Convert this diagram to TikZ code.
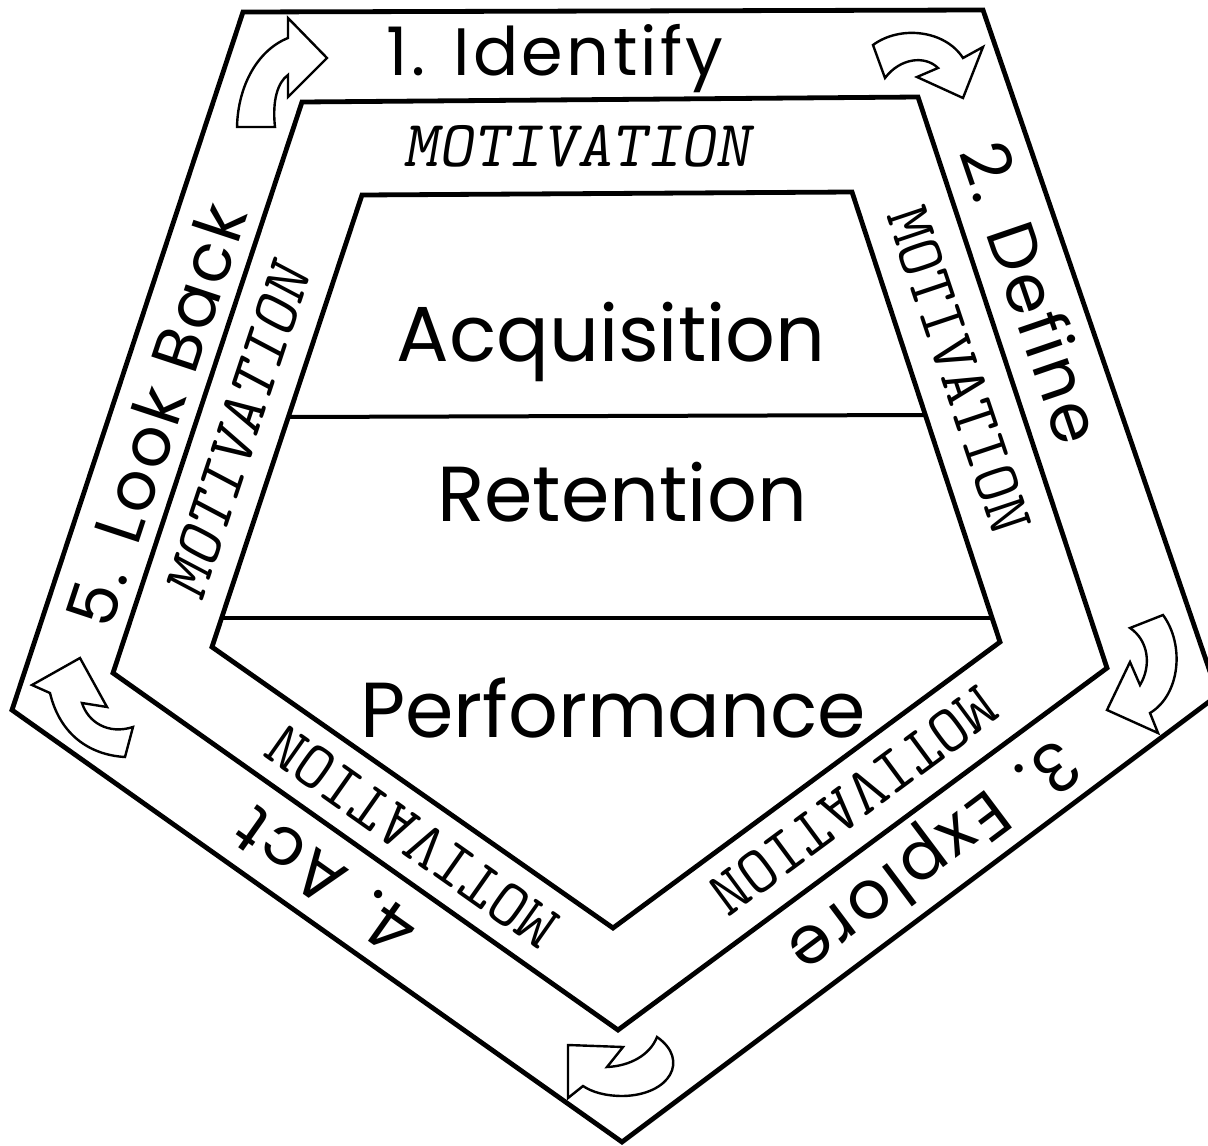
\documentclass[tikz,border=0pt]{standalone}
\usepackage{fontspec}
\setmainfont{Poppins}
\begin{document}
\begin{tikzpicture}[x=1pt,y=-1pt,
  frame/.style={line width=4.8pt, line join=miter},
  divider/.style={line width=4pt},
  turn/.style={line width=2.4pt, fill=white, line join=miter},
  steplabel/.style={font=\fontsize{67}{67}\selectfont\addfontfeature{LetterSpace=5}, inner sep=0pt, text height=47pt, text depth=0pt},
  motiv/.style={font=\ttfamily\fontsize{66}{66}\selectfont, inner sep=0pt, text height=40pt, text depth=0pt},
  motivsl/.style={motiv, font=\ttfamily\slshape\fontsize{66}{66}\selectfont},
  core/.style={font=\fontsize{78}{78}\selectfont, inner sep=0pt, text height=55pt, text depth=0pt}]
\path[use as bounding box, fill=white] (0,0) rectangle (1208,1146);
\clip (0,0) rectangle (1208,1146);
% outer pentagon
\coordinate (o1) at (243,12);
\coordinate (o2) at (983,10);
\coordinate (o3) at (1218,695);
\coordinate (o4) at (622,1142);
\coordinate (o5) at (12,710);
% middle pentagon
\coordinate (m1) at (302,102);
\coordinate (m2) at (918,97);
\coordinate (m3) at (1107,668);
\coordinate (m4) at (618,1030);
\coordinate (m5) at (113,673);
% inner shape
\coordinate (i1) at (362,195);
\coordinate (i2) at (852,192);
\coordinate (i3) at (1000,642);
\coordinate (i4) at (613,928);
\coordinate (i5) at (212,647);
\draw[frame] (o1) -- (o2) -- (o3) -- (o4) -- (o5) -- cycle;
\draw[frame] (m1) -- (m2) -- (m3) -- (m4) -- (m5) -- cycle;
\draw[frame] (i1) -- (i2) -- (i3) -- (i4) -- (i5) -- cycle;
\coordinate (d1l) at (288,417);
\coordinate (d1r) at (925,415);
\coordinate (d2l) at (222,618);
\coordinate (d2r) at (992,618);
\draw[divider] (d1l) -- (d1r);
\draw[divider] (d2l) -- (d2r);
% turning arrows
\draw[turn] (237,127) .. controls (238,85) and (258,50) .. (288,38) -- (288,18) -- (327,58) -- (288,97) -- (288,75) .. controls (278,82) and (272,100) .. (275,127) -- cycle;
\draw[turn] (873,45) .. controls (900,25) and (945,30) .. (963,58) -- (983,47) -- (963,98) -- (917,77) -- (938,68) .. controls (925,55) and (900,58) .. (885,78) -- cycle;
\draw[turn] (1163,615) .. controls (1185,645) and (1180,695) .. (1150,713) -- (1158,733) -- (1107,710) -- (1130,662) -- (1140,685) .. controls (1152,665) and (1148,640) .. (1130,628) -- cycle;
\draw[turn] (568,1045) -- (623,1047) -- (607,1067) .. controls (630,1066) and (650,1055) .. (657,1037) .. controls (690,1060) and (670,1095) .. (623,1096) .. controls (605,1096) and (592,1092) .. (583,1086) -- (568,1098) -- cycle;
\draw[turn] (32,685) -- (80,658) -- (107,707) -- (82,703) .. controls (88,722) and (108,735) .. (133,727) -- (125,757) .. controls (90,755) and (60,735) .. (50,693) -- cycle;
% step labels
\node[steplabel] (s1) at (555,52) {1. Identify};
\node[steplabel, rotate=-71.1] (s2) at (1031,293) {2. Define};
\node[steplabel, rotate=-143.1] (s3) at (934,858) {3. Explore};
\node[steplabel, rotate=144.7] (s4) at (326,882) {4. Act};
\node[steplabel, rotate=71.7] (s5) at (157,415) {5. Look Back};
% motivation labels
\node[motivsl] (mt) at (577,146) {MOTIVATION};
\node[motiv, rotate=-71.5] (mr) at (959,370) {MOTIVATION};
\node[motiv, rotate=-143.5] (mbr) at (853,801) {MOTIVATION};
\node[motiv, rotate=144.8] (mbl) at (412,836) {MOTIVATION};
\node[motivsl, rotate=71.7] (ml) at (238,432) {MOTIVATION};
% core labels
\node[core] (acq) at (611,334) {Acquisition};
\node[core] (ret) at (622,494) {Retention};
\node[core] (perf) at (613,710) {Performance};
\end{tikzpicture}
\end{document}
